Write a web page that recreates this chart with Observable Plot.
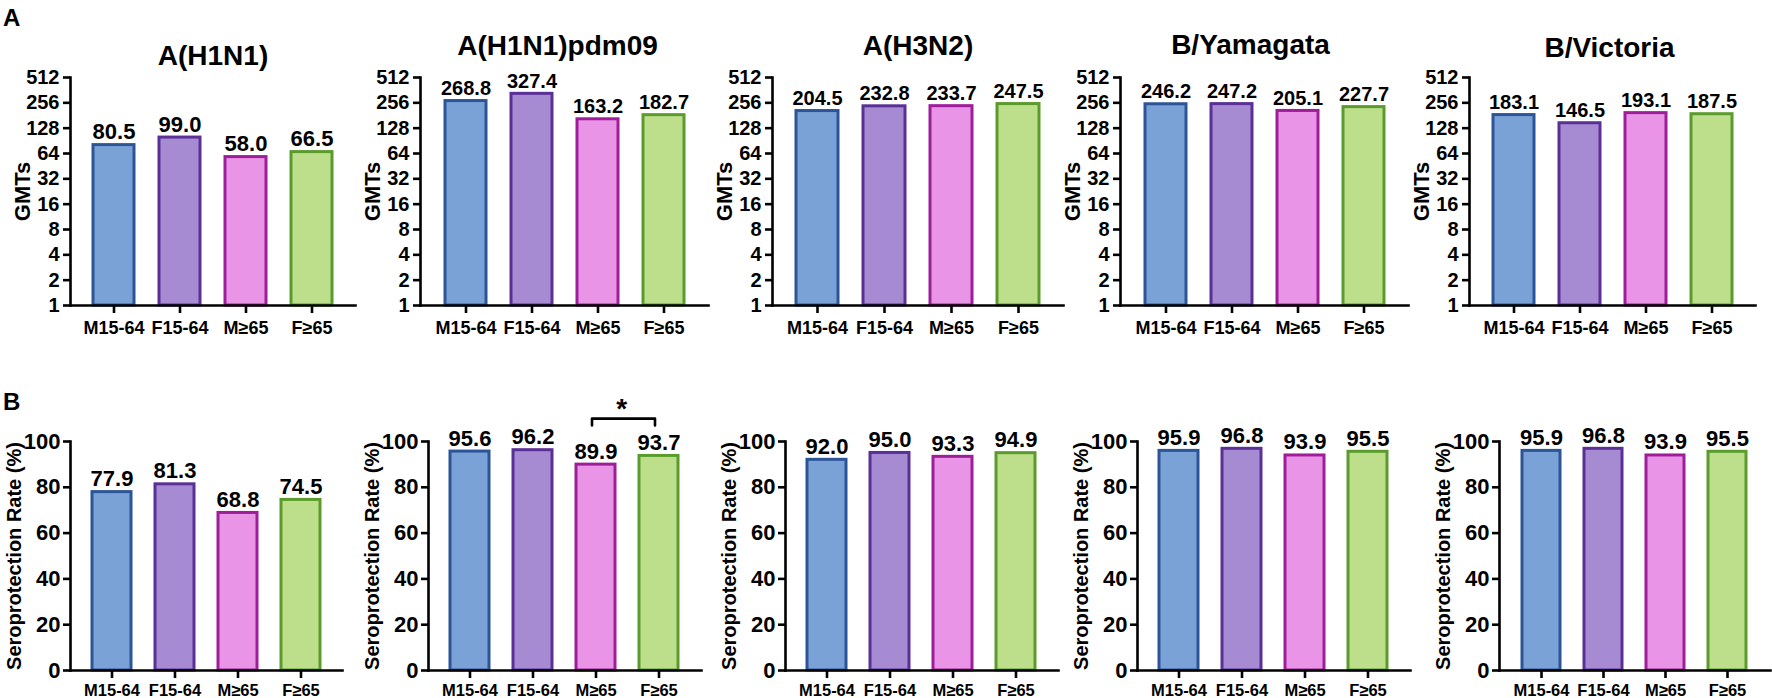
<!DOCTYPE html>
<html><head><meta charset="utf-8">
<script src="https://cdn.jsdelivr.net/npm/d3@7"></script>
<script src="https://cdn.jsdelivr.net/npm/@observablehq/plot@0.6"></script>
<style>
body{margin:0;background:#fff;}
#fig{position:relative;width:1772px;height:698px;overflow:hidden;background:#fff;font-family:"Liberation Sans",Arial,sans-serif;}
#fig svg{position:absolute;overflow:visible;max-width:none;}
.panel-letter{position:absolute;left:3px;font-weight:bold;font-size:24px;line-height:1;font-family:"Liberation Sans",Arial,sans-serif;}
</style></head><body><div id="fig"></div>
<script>
// ---- data ----
const groups = ["M15-64", "F15-64", "M≥65", "F≥65"];
const strains = ["A(H1N1)", "A(H1N1)pdm09", "A(H3N2)", "B/Yamagata", "B/Victoria"];
const gmtH1N1 = [80.5, 99.0, 58.0, 66.5];
const gmtPdm09 = [268.8, 327.4, 163.2, 182.7];
const gmtH3N2 = [204.5, 232.8, 233.7, 247.5];
const gmtYamagata = [246.2, 247.2, 205.1, 227.7];
const gmtVictoria = [183.1, 146.5, 193.1, 187.5];
const sprH1N1 = [77.9, 81.3, 68.8, 74.5];
const sprPdm09 = [95.6, 96.2, 89.9, 93.7];
const sprH3N2 = [92.0, 95.0, 93.3, 94.9];
const sprYamagata = [95.9, 96.8, 93.9, 95.5];
const sprVictoria = [95.9, 96.8, 93.9, 95.5];
const gmtTicks = [1, 2, 4, 8, 16, 32, 64, 128, 256, 512];
const sprTicks = [0, 20, 40, 60, 80, 100];
const sigPair = ["M≥65", "F≥65"]; // significant difference in panel B, A(H1N1)pdm09
const sigLabel = "*";

// ---- style ----
const fillColors = ["#7BA2D6", "#A68BD3", "#EA94E8", "#BDDF8B"];
const strokeColors = ["#2C5597", "#5B3096", "#9E1E99", "#5A9B2C"];

// ---- layout ----
const topAxisX = [70, 420, 772, 1120, 1469];
const topAxisEnd = [355, 708, 1063, 1408, 1755];
const botAxisX = [70, 428, 785, 1137, 1499];
const botAxisEnd = [342, 701, 1058, 1410, 1770];
const titleBase = [64, 54, 54, 53, 56];
const titleShift = [0, -7, 0, -14, -3];
const topValueFont = [22, 20, 20, 20, 20];

const fig = document.getElementById("fig");
const ML = 68, MR = 3;
const PI = 0.38, PO = 0.345;

function panel(o) {
  const data = groups.map((g, k) => ({group: g, value: o.values[k], k}));
  const width = ML + (o.axisEnd - o.axisX) + MR;
  const marks = [
    Plot.barY(data, {
      x: "group", y1: o.yDomain[0], y2: "value",
      fill: d => fillColors[d.k], stroke: d => strokeColors[d.k], strokeWidth: 3
    }),
    Plot.frame({anchor: "left", strokeWidth: 2.6}),
    Plot.frame({anchor: "bottom", strokeWidth: 2.6}),
    Plot.axisY({ticks: o.yTicks, tickFormat: d => String(d), tickSize: 7, tickPadding: o.tickPad,
      strokeWidth: 2.6, fontSize: o.tickFont, label: null}),
    Plot.axisX({tickSize: 8, tickPadding: o.xPad, strokeWidth: 2.6, fontSize: o.xFont, label: null}),
    Plot.text(data, {x: "group", y: "value", text: d => d.value.toFixed(1), dy: -6,
      lineAnchor: "bottom", fontSize: o.valueFont}),
    Plot.text([o.yLabel], {frameAnchor: "left", textAnchor: "middle", rotate: -90, dx: o.labelDx,
      fontSize: o.labelFont})
  ];
  if (o.title) {
    marks.push(Plot.text([o.title], {frameAnchor: "top", dy: o.titleDy, dx: o.titleDx,
      lineAnchor: "bottom", fontSize: 28}));
  }
  if (o.sig) {
    const step = (o.axisEnd - o.axisX) / (4 - PI + 2 * PO);
    marks.push(Plot.line([
      {g: o.sig[0], v: 107}, {g: o.sig[0], v: 110}, {g: o.sig[1], v: 110}, {g: o.sig[1], v: 107}
    ], {x: "g", y: "v", strokeWidth: 2.6, dx: -4}));
    marks.push(Plot.text([sigLabel], {x: () => o.sig[0], y: () => 110, dx: step / 2 - 6, dy: -1,
      lineAnchor: "bottom", fontSize: 28}));
  }
  const svg = Plot.plot({
    width, height: o.height,
    marginLeft: ML, marginRight: MR, marginTop: o.mTop, marginBottom: o.mBottom,
    x: {domain: groups, paddingInner: PI, paddingOuter: PO},
    y: {type: o.yType, base: o.yType === "log" ? 2 : undefined, domain: o.yDomain, nice: false},
    style: {fontFamily: '"Liberation Sans", Arial, sans-serif', fontWeight: "bold", color: "black",
      background: "transparent", overflow: "visible"},
    marks
  });
  svg.style.left = (o.axisX - ML) + "px";
  svg.style.top = o.top + "px";
  fig.appendChild(svg);
}

const gmtSets = [gmtH1N1, gmtPdm09, gmtH3N2, gmtYamagata, gmtVictoria];
const sprSets = [sprH1N1, sprPdm09, sprH3N2, sprYamagata, sprVictoria];

strains.forEach((s, i) => {
  panel({
    values: gmtSets[i], yType: "log", yDomain: [1, 512], yTicks: gmtTicks,
    axisX: topAxisX[i], axisEnd: topAxisEnd[i], top: 0, height: 345, mTop: 77, mBottom: 40,
    title: s, titleDy: titleBase[i] - 77, titleDx: titleShift[i],
    yLabel: "GMTs", labelDx: -48, labelFont: 22, tickFont: 20, tickPad: 4,
    valueFont: topValueFont[i], xFont: 18, xPad: 8
  });
  panel({
    values: sprSets[i], yType: "linear", yDomain: [0, 100], yTicks: sprTicks,
    axisX: botAxisX[i], axisEnd: botAxisEnd[i], top: 345, height: 353, mTop: 96, mBottom: 28,
    title: null, yLabel: "Seroprotection Rate (%)", labelDx: -56, labelFont: 20, tickFont: 22, tickPad: 3,
    valueFont: 22, xFont: 16.5, xPad: 6, sig: i === 1 ? sigPair : null
  });
});

for (const [t, top] of [["A", 6], ["B", 390]]) {
  const d = document.createElement("div");
  d.className = "panel-letter";
  d.textContent = t;
  d.style.top = top + "px";
  fig.appendChild(d);
}
</script>
</body></html>
